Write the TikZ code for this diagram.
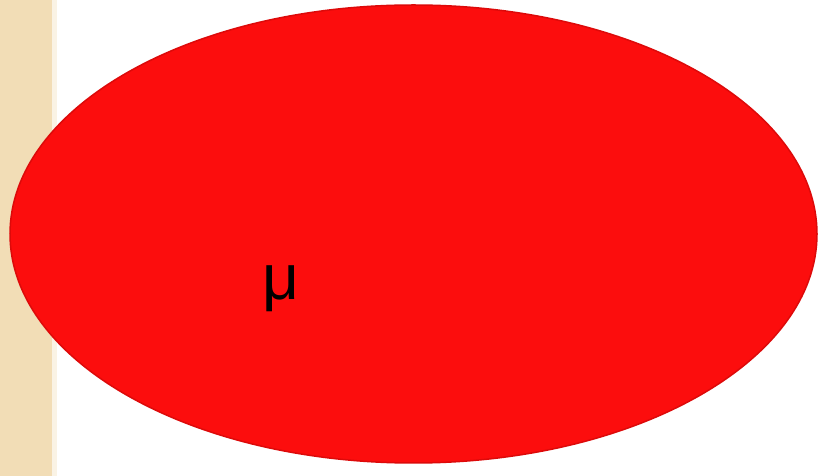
\documentclass[tikz,border=0pt]{standalone}
\usepackage{fontspec}
\setmainfont{Liberation Sans}
\usepackage{tikz}
\usetikzlibrary{shapes.geometric}
\definecolor{strawBeige}{HTML}{F2DDB6}
\definecolor{cellRed}{HTML}{FC0D0D}
\definecolor{rimRed}{HTML}{DD0A0A}

\begin{document}
\begin{tikzpicture}[x=1pt, y=1pt,
        strip/.style={fill=strawBeige, draw=none},
        cell/.style={ellipse, fill=cellRed, draw=rimRed, line width=1.5pt,
                     minimum width=807pt, minimum height=458pt, inner sep=0pt},
        symb/.style={font=\fontsize{64}{64}\selectfont, text=black, anchor=base}
    ]
        \useasboundingbox (0,0) rectangle (821,476);
        \fill[white] (0,0) rectangle (821,476);
        \fill[strip] (0,0) rectangle (52,476);
        \fill[strawBeige!35] (52,0) rectangle (57,476);

        \node[cell] (cell) at (413.5,242) {};
        \node[symb] (mu) at (281,176) {μ};
    \end{tikzpicture}
\end{document}
